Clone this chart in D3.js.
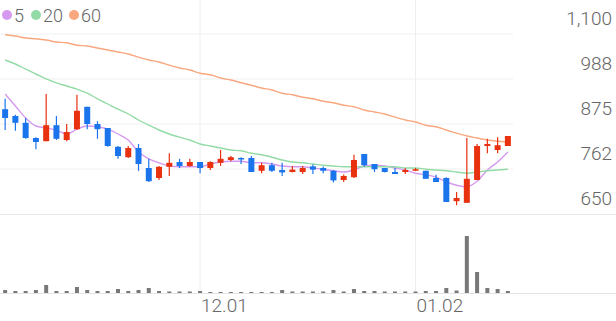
<!DOCTYPE html>
<html>
<head>
<meta charset="utf-8">
<script src="https://cdn.jsdelivr.net/npm/d3@7"></script>
<style>
  body { margin: 0; background: #fff; }
  svg text { font-family: Roboto, "Noto Sans", sans-serif; }
</style>
</head>
<body>
<svg id="chart"></svg>
<script>
// trading days shown (Nov 4 .. Jan 15)
const dates = [
  "11.04","11.05","11.06","11.07","11.10","11.11","11.12","11.13","11.14","11.17",
  "11.18","11.19","11.20","11.21","11.24","11.25","11.26","11.27","11.28",
  "12.01","12.02","12.03","12.04","12.05","12.08","12.09","12.10","12.11","12.12",
  "12.15","12.16","12.17","12.18","12.19","12.22","12.23","12.24","12.26","12.29","12.30",
  "01.02","01.05","01.06","01.07","01.08","01.09","01.12","01.13","01.14","01.15"
];

const open  = [912,895,878,840,832,872,835,862,918,875,865,818,792,815,765,740,768,780,770,780,
               765,778,785,790,790,758,772,760,755,755,769,765,758,735,742,800,775,765,755,755,
               758,758,740,740,682,678,735,820,810,820];
const high  = [938,898,890,842,950,895,875,948,918,882,865,820,820,825,788,770,802,788,788,780,
               782,810,795,792,795,778,778,778,770,770,774,769,760,749,798,800,775,765,765,765,
               765,758,748,742,705,840,825,838,842,845];
const low   = [860,858,838,812,832,835,832,860,862,838,818,788,790,758,730,735,745,765,768,752,
               760,770,782,775,755,752,755,745,754,750,750,752,729,730,740,768,755,754,750,750,
               758,738,730,680,672,678,735,802,802,820];
const close = [890,878,840,830,872,838,855,908,875,862,820,795,815,775,732,768,778,770,780,765,
               780,788,792,788,755,772,758,754,761,765,761,758,734,745,785,772,762,755,750,760,
               762,738,730,680,690,738,820,825,822,845];

const volume = [3,2,2,3,8,2,2,6,3,2,2,4,2,3,5,2,1.5,1.5,1.5,2,
                1,1,1,1,1,1,1,3,1.5,1.5,1.5,1.5,3,1.5,4,2,2,1.5,1.5,1.5,
                1.5,2,2,5,2.5,57,21,5,4,2];

const ma5  = [950,920,890,870,865,860,850,862,870,868,862,850,835,805,788,778,770,768,768,768,
              775,780,782,782,778,778,775,770,768,768,765,762,758,755,760,770,772,770,765,760,
              752,748,742,730,722,718,732,760,780,805];
const ma20 = [1035,1025,1012,1000,988,978,970,962,952,938,925,912,900,885,872,860,850,842,835,825,
              820,815,810,808,802,798,792,785,780,778,775,772,770,768,768,768,768,768,768,765,
              765,762,760,758,755,752,755,758,760,762];
const ma60 = [1098,1095,1090,1088,1085,1080,1078,1072,1070,1065,1060,1055,1050,1042,1035,1030,1022,1015,1010,1002,
              998,990,985,978,972,965,960,952,948,942,938,932,928,922,918,910,905,900,892,885,
              880,872,868,860,852,845,840,835,832,830];

const priceTicks = [650, 762.5, 875, 987.5, 1100];
const priceTickLabels = ["650", "762", "875", "988", "1,100"];
const dateTicks = ["12.01", "01.02"];

const maSeries = [
  { name: "5", values: ma5, color: "#d59af0" },
  { name: "20", values: ma20, color: "#93dba6" },
  { name: "60", values: ma60, color: "#f9a77f" }
];

const width = 616, height = 321;
const plotRight = 513;
const upColor = "#e8310f", downColor = "#1a74ec";

const svg = d3.select("#chart").attr("width", width).attr("height", height);

const x = d3.scaleBand().domain(dates).range([0, plotRight]).padding(0);
const cx = d => x(d) + x.bandwidth() / 2;
const y = d3.scaleLinear().domain([650, 1100]).range([214, 34]);
const yVol = d3.scaleLinear().domain([0, 57]).range([293, 236]);

// horizontal gridlines
svg.append("g")
  .selectAll("line")
  .data(priceTicks.slice(1))
  .enter().append("line")
  .attr("x1", 0).attr("x2", plotRight)
  .attr("y1", d => y(d)).attr("y2", d => y(d))
  .attr("stroke", "#f0f0f0");

// vertical gridlines
svg.append("g")
  .selectAll("line")
  .data(dateTicks)
  .enter().append("line")
  .attr("x1", d => cx(d)).attr("x2", d => cx(d))
  .attr("y1", 0).attr("y2", 293)
  .attr("stroke", "#eeeeee");

// pane separators
svg.append("line").attr("x1", 0).attr("x2", width).attr("y1", y(650) + 0.5).attr("y2", y(650) + 0.5).attr("stroke", "#e8e8e8");
svg.append("line").attr("x1", 0).attr("x2", width).attr("y1", 293.5).attr("y2", 293.5).attr("stroke", "#e4e4e4");

// price axis labels
const yAxis = svg.append("g")
  .attr("transform", "translate(612,0)")
  .call(d3.axisLeft(y).tickValues(priceTicks).tickSize(0).tickPadding(0)
    .tickFormat((d, i) => priceTickLabels[i]));
yAxis.select(".domain").remove();
yAxis.selectAll("text")
  .attr("dy", "-0.5em")
  .attr("fill", "#666")
  .style("font-size", "19px")
  .style("font-weight", "300")
  .style("font-family", "Roboto, sans-serif");

// date axis
const xAxis = svg.append("g")
  .attr("transform", "translate(0,293)")
  .call(d3.axisBottom(x).tickValues(dateTicks).tickSize(0).tickPadding(0));
xAxis.select(".domain").remove();
xAxis.selectAll("text")
  .attr("text-anchor", "start")
  .attr("dx", "0.05em")
  .attr("dy", "1em")
  .attr("fill", "#666")
  .style("font-size", "19px")
  .style("font-weight", "300")
  .style("font-family", "Roboto, sans-serif");

const candles = dates.map((d, i) => ({
  date: d, o: open[i], h: high[i], l: low[i], c: close[i], v: volume[i]
}));

// volume bars
svg.append("g")
  .selectAll("rect")
  .data(candles)
  .enter().append("rect")
  .attr("x", d => cx(d.date) - 2)
  .attr("width", 4)
  .attr("y", d => yVol(d.v))
  .attr("height", d => 293 - yVol(d.v))
  .attr("fill", "#787878");

// moving averages
const line = d3.line()
  .x((v, i) => cx(dates[i]))
  .y(v => y(v))
  .curve(d3.curveMonotoneX);

svg.append("g")
  .selectAll("path")
  .data(maSeries)
  .enter().append("path")
  .attr("d", d => line(d.values))
  .attr("fill", "none")
  .attr("stroke", d => d.color)
  .attr("stroke-width", 1.4);

// candles
const cg = svg.append("g")
  .selectAll("g")
  .data(candles)
  .enter().append("g");

cg.append("line")
  .attr("x1", d => cx(d.date)).attr("x2", d => cx(d.date))
  .attr("y1", d => y(d.h)).attr("y2", d => y(d.l))
  .attr("stroke", d => d.c >= d.o ? upColor : downColor)
  .attr("stroke-width", 1.2);

cg.append("rect")
  .attr("x", d => cx(d.date) - 3)
  .attr("width", 6)
  .attr("y", d => y(Math.max(d.o, d.c)))
  .attr("height", d => Math.max(1.5, Math.abs(y(d.o) - y(d.c))))
  .attr("fill", d => d.c >= d.o ? upColor : downColor);

// legend
const legend = svg.append("g").attr("transform", "translate(7,15)");
let lx = 0;
maSeries.forEach(s => {
  legend.append("circle").attr("cx", lx).attr("cy", 0).attr("r", 5).attr("fill", s.color);
  legend.append("text")
    .attr("x", lx + 7).attr("y", 6.5)
    .attr("fill", "#666")
    .style("font-size", "18px")
    .style("font-weight", "300")
    .text(s.name);
  lx += s.name.length === 1 ? 29 : 38;
});
</script>
</body>
</html>
